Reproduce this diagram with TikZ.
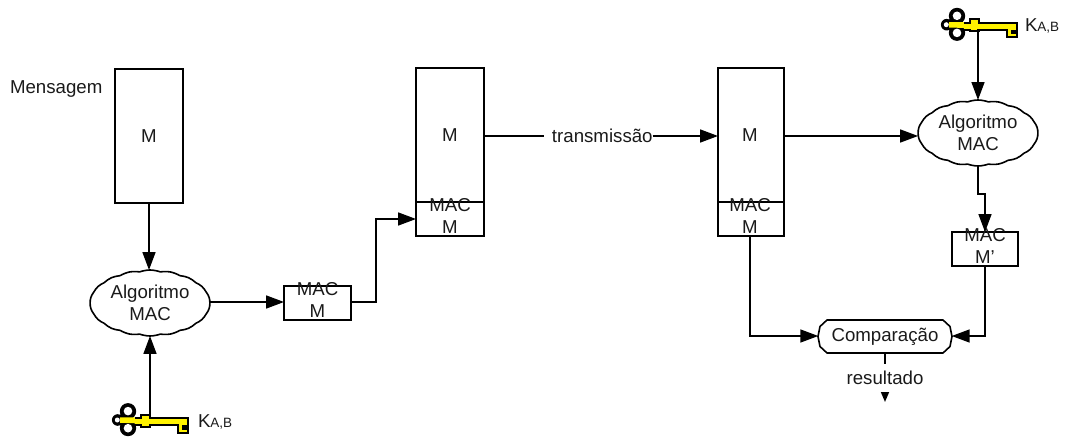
\documentclass[tikz,border=0pt]{standalone}
\usepackage{fontspec}
\setmainfont{Liberation Sans}
\usetikzlibrary{arrows.meta,shapes.symbols}
\newcommand{\twolines}[2]{\raisebox{-6pt}{\smash{\begin{tabular}[c]{@{}c@{}}#1\\#2\end{tabular}}}}
\definecolor{txt}{HTML}{1A1A1A}
\tikzset{
  every node/.style={font=\fontsize{18.67}{22}\selectfont,text=txt,inner sep=0pt,outer sep=0pt},
  boxnode/.style={draw=black,line width=1.6pt,rectangle,minimum width=68pt},
  algo/.style={draw=black,line width=1.6pt,cloud,cloud puffs=18,cloud puff arc=42,
    minimum width=120pt,minimum height=66pt,align=center,cloud ignores aspect},
  comp/.style={rectangle,minimum width=134pt,minimum height=33pt},
  conn/.style={draw=black,line width=1.6pt},
  arrow/.style={conn,-{Triangle[length=18pt,width=13pt]}},
  smallarrow/.style={conn,-{Triangle[length=10pt,width=8pt]}},
  keylabel/.style={anchor=base west},
  pics/keyicon/.style={code={
    \fill[black] (17,-8.7) circle (8.2) (17,8) circle (8.2) (6.7,0) circle (5.8);
    \fill[yellow] (9,-2.6) -- (32,-2.6) -- (32,3.5) -- (9,2.8) -- cycle;
    \filldraw[draw=black,line width=2pt,fill=yellow] (24,-1.6) -- (30,-1.6) -- (30,-5.5) -- (39,-5.5) -- (39,-1.6) -- (76.5,-1.6)
      -- (76.5,12.8) -- (67,12.8) -- (67,5.4) -- (39,5.4) -- (39,6.8) -- (30,6.8) -- (30,5.4) -- (24,5.4);
    \fill[white] (17,-8.9) circle (4.3) (17,8.2) circle (4.3) (6.3,0) circle (2.5);
    \fill[black] (71,5.4) rectangle (76,9.5);
  }}
}
\begin{document}
\begin{tikzpicture}[x=1pt,y=-1pt]
\useasboundingbox (0,0) rectangle (1066,441);
% boxes
\node[boxnode,minimum height=134pt] (m1) at (149,136) {M};
\node[boxnode,minimum height=134pt] (m2) at (450,135) {M};
\node[boxnode,minimum height=34pt] (mac2) at (450,219) {\twolines{MAC}{M}};
\node[boxnode,minimum width=66pt,minimum height=134pt] (m3) at (751,135) {\hspace*{-2pt}M};
\node[boxnode,minimum width=66pt,minimum height=34pt] (mac3) at (751,219) {\hspace*{-2pt}\twolines{MAC}{M}};
\node[boxnode,minimum width=67pt,minimum height=34pt] (mac1) at (317.5,303) {\twolines{MAC}{M}};
\node[boxnode,minimum width=66pt,minimum height=34pt] (mac4) at (985,249) {\twolines{MAC}{M'}};
% processes
\node[algo] (alg1) at (150,303) {Algoritmo\\MAC};
\node[algo] (alg2) at (978,133) {Algoritmo\\MAC};
\node[comp] (cmp) at (885,336.5) {Comparação};
\draw[conn,line join=round] (cmp.center) ++(-58,-16.5) -- ++(116,0) -- ++(7,6.5) -- ++(2,10) -- ++(-2,10) -- ++(-7,6.5)
  -- ++(-116,0) -- ++(-7,-6.5) -- ++(-2,-10) -- ++(2,-10) -- cycle;
% texts
\node[anchor=base west] (msg) at (10,94) {Mensagem};
\node (tx) at (602.3,136) {transmissão};
\node (res) at (885,378) {resultado};
% keys
\pic (key1) at (111,420) {keyicon};
\pic (key2) at (940,24.7) {keyicon};
\coordinate (k1) at (150,415);
\coordinate (k2) at (978,29.5);
\coordinate (ctop) at (885,353);
\coordinate (rbot) at (885,363.5);
\coordinate (atop) at (885,392);
\coordinate (aend) at (885,402);
\node[keylabel] (kl1) at (198,427) {K{\fontsize{13.5}{16}\selectfont A,B}};
\node[keylabel] (kl2) at (1025,32) {K{\fontsize{13.5}{16}\selectfont A,B}};
% connectors
\draw[arrow] (m1.south) -- (m1.south |- alg1.north);
\draw[arrow] (k1) -- (k1 |- alg1.south);
\draw[arrow] (alg1.east |- 0,302) -- (mac1.west |- 0,302);
\draw[arrow] (mac1.east |- 0,302) -- (376,302) -- (376,219) -- (mac2.west);
\draw[conn] (m2.east |- tx) -- ([xshift=-8pt]tx.west);
\draw[arrow] (tx.east) -- (m3.west |- tx);
\draw[arrow] (m3.east |- tx) -- (alg2.west |- tx);
\draw[arrow] (k2) -- (alg2.north);
\draw[arrow] (alg2.south) -- (978,194) -- (985,194) -- (mac4.north);
\draw[arrow] (750,236) -- (750,336) -- (818.3,336);
\draw[arrow] (mac4.south) -- (985,336) -- (951.7,336);
\draw[conn] (ctop) -- (rbot);
\draw[smallarrow] (atop) -- (aend);
\end{tikzpicture}
\end{document}
